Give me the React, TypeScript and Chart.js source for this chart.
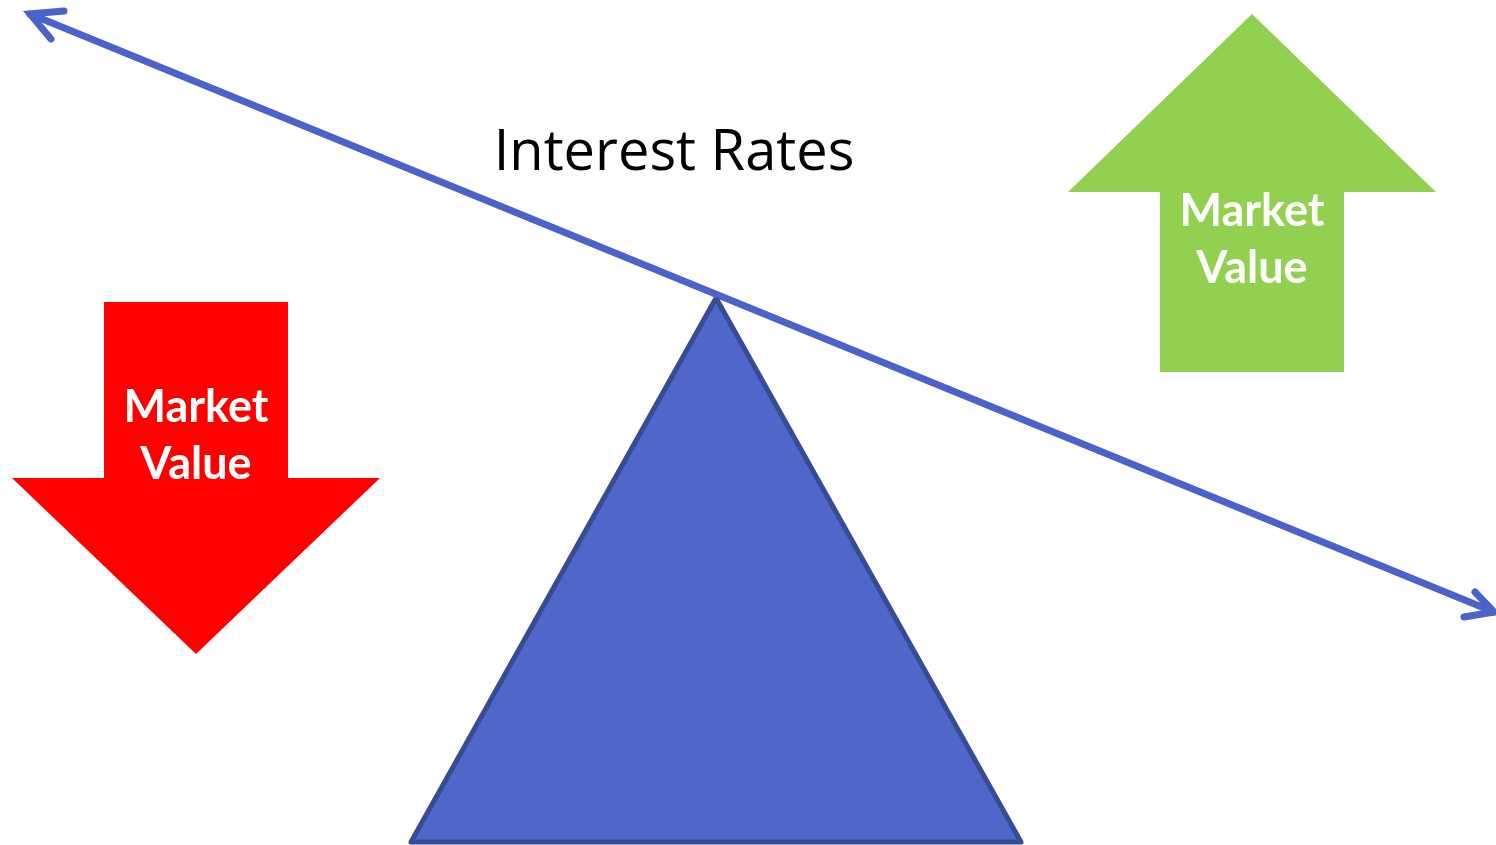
import React, { useEffect, useRef } from "react";
import { Chart, registerables } from "chart.js";

Chart.register(...registerables);

// Diagram geometry in pixel-like data units (x: 0..1496, y: 0..845 downward)
const seesawLine = [
  { x: 30, y: 14 },
  { x: 1494, y: 612 },
];
const leftHead = [
  { x: 64, y: 11 },
  { x: 30, y: 14 },
  { x: 51, y: 39 },
];
const rightHead = [
  { x: 1475, y: 592 },
  { x: 1494, y: 612 },
  { x: 1464, y: 617 },
];
const fulcrum = [
  { x: 716, y: 298 },
  { x: 1021, y: 842 },
  { x: 411, y: 842 },
  { x: 716, y: 298 },
];
const upArrow = [
  { x: 1252, y: 14 },
  { x: 1436, y: 192 },
  { x: 1344, y: 192 },
  { x: 1344, y: 372 },
  { x: 1160, y: 372 },
  { x: 1160, y: 192 },
  { x: 1068, y: 192 },
  { x: 1252, y: 14 },
];
const downArrow = [
  { x: 104, y: 302 },
  { x: 288, y: 302 },
  { x: 288, y: 478 },
  { x: 380, y: 478 },
  { x: 196, y: 654 },
  { x: 12, y: 478 },
  { x: 104, y: 478 },
  { x: 104, y: 302 },
];
const titleText = "Interest Rates";
const titlePos = { x: 674, y: 154 };
const arrowLabelLines = ["Market", "Value"];
const upLabelPos = [
  { x: 1252, y: 211 },
  { x: 1252, y: 268 },
];
const downLabelPos = [
  { x: 196, y: 407 },
  { x: 196, y: 464 },
];

const labelsPlugin = {
  id: "diagramLabels",
  afterDatasetsDraw(chart: any) {
    const { ctx, scales } = chart;
    const xs = scales.x;
    const ys = scales.y;
    ctx.save();
    ctx.textAlign = "center";
    ctx.textBaseline = "middle";
    ctx.fillStyle = "#000000";
    ctx.font = '56px "Open Sans", Lato, sans-serif';
    ctx.fillText(titleText, xs.getPixelForValue(titlePos.x), ys.getPixelForValue(titlePos.y));
    ctx.fillStyle = "#ffffff";
    ctx.font = 'bold 45px Lato, "Open Sans", sans-serif';
    arrowLabelLines.forEach((t, i) => {
      ctx.fillText(t, xs.getPixelForValue(upLabelPos[i].x), ys.getPixelForValue(upLabelPos[i].y));
      ctx.fillText(t, xs.getPixelForValue(downLabelPos[i].x), ys.getPixelForValue(downLabelPos[i].y));
    });
    ctx.restore();
  },
};

export default function App() {
  const ref = useRef<HTMLCanvasElement | null>(null);
  useEffect(() => {
    if (!ref.current) return;
    const common = { showLine: true, pointRadius: 0, clip: false as any, tension: 0 };
    const chart = new Chart(ref.current, {
      type: "scatter",
      data: {
        datasets: [
          { ...common, data: downArrow, backgroundColor: "#FF0000", borderWidth: 0, fill: "shape" as any },
          { ...common, data: upArrow, backgroundColor: "#92D050", borderWidth: 0, fill: "shape" as any },
          {
            ...common,
            data: fulcrum,
            backgroundColor: "#4F67C8",
            borderColor: "#374C94",
            borderWidth: 5,
            borderJoinStyle: "round",
            fill: "shape" as any,
          },
          { ...common, data: seesawLine, borderColor: "#4A62C9", borderWidth: 7, borderCapStyle: "round" },
          { ...common, data: leftHead, borderColor: "#4A62C9", borderWidth: 7, borderCapStyle: "round", borderJoinStyle: "miter" },
          { ...common, data: rightHead, borderColor: "#4A62C9", borderWidth: 7, borderCapStyle: "round", borderJoinStyle: "miter" },
        ],
      },
      options: {
        animation: false,
        responsive: true,
        maintainAspectRatio: false,
        layout: { padding: 0 },
        plugins: { legend: { display: false }, tooltip: { enabled: false }, title: { display: false } },
        events: [],
        scales: {
          x: { type: "linear", min: 0, max: 1496, display: false },
          y: { type: "linear", min: 0, max: 845, reverse: true, display: false },
        },
      },
      plugins: [labelsPlugin],
    });
    return () => chart.destroy();
  }, []);
  return (
    <div style={{ position: "fixed", left: 0, top: 0, width: "100vw", height: "100vh", background: "#ffffff" }}>
      <canvas ref={ref} />
    </div>
  );
}
